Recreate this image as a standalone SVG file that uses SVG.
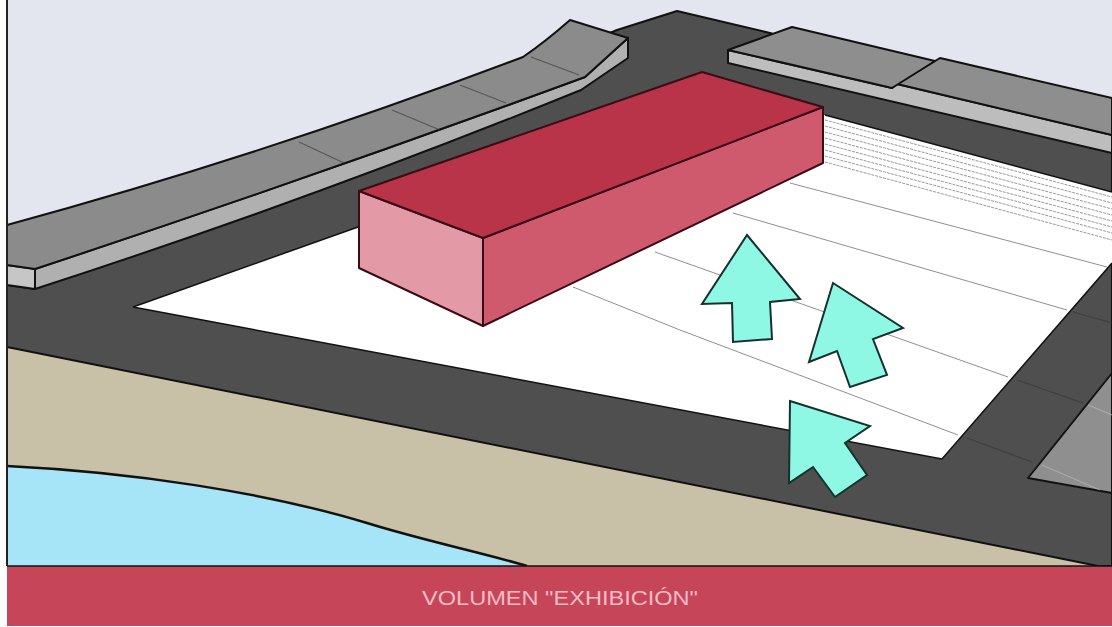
<svg xmlns="http://www.w3.org/2000/svg" width="1112" height="627" viewBox="0 0 1112 627">
<style>
.o{stroke:#111;stroke-width:2;stroke-linejoin:round}
.box{stroke:#3a0c16;stroke-width:2;stroke-linejoin:round}
.seam{fill:none;stroke:#333;stroke-width:1.2;opacity:.6}
.g{fill:none;stroke:#8f8f8f;stroke-width:1}
.d{fill:none;stroke:#9a9a9a;stroke-width:1;stroke-dasharray:3 1}
.a{fill:#8ff8e4;stroke:#16302e;stroke-width:2;stroke-linejoin:miter}
</style>
<rect width="1112" height="627" fill="#fff"/>
<rect x="7" y="0" width="1105" height="566" fill="#e3e6ee"/>
<path d="M7 347L1098 566H7Z" fill="#c9c0a8"/>
<path d="M7 466C130 472 265 492 367 523C425 541 480 552 527 566H7Z" fill="#a6e5f7"/>
<path d="M7 466C130 472 265 492 367 523C425 541 480 552 527 566" fill="none" stroke="#111" stroke-width="2.5"/>
<path class="o" d="M7 285L617 30L677 11L770 33L1112 135V566H1098L7 347Z" fill="#4f4f4f"/>
<path d="M133 307L358 227L700 110L825 115L1112 192V263L942 459Z" fill="#fff"/>
<path d="M133 307L358 227M825 115L1112 192M1112 263L942 459L133 307" fill="none" stroke="#111" stroke-width="1.5"/>
<g>
<path class="d" d="M825 120L1112 197M825 126L1112 203M825 132L1112 209M825 138L1112 215M825 144L1112 221M825 150L1112 227M825 156L1112 233M825 162L1112 240"/>
<path class="g" d="M790 183L1107 267M733 213L1067 310M655 252L1008 377M573 287L680 330L958 435"/>
</g>
<path class="seam" d="M1073 312L1112 323M1017 380L1083 403M967 438L1032 462"/>
<path class="o" d="M1028 478L1112 373V493Z" fill="#8f8f8f"/>
<path class="seam" d="M1088 405L1112 415M1042 465L1100 490" style="stroke:#bbb"/>
<path class="o" d="M7 265L35 269Q310 178 585 77L628 38V58L581 90Q310 200 35 289L7 285Z" fill="#b0b0b0"/>
<path d="M7 265L35 269V289L7 285Z" fill="#c6c6c6" stroke="#111" stroke-width="2" stroke-linejoin="round"/>
<path class="o" d="M7 225Q265 155 523 57Q545 42 570 20L628 38L585 77Q310 178 35 269L7 265Z" fill="#8b8b8b"/>
<path class="seam" d="M299 142L344 163M392 110L440 130M460 85L506 103M531 57L579 75"/>
<path class="o" d="M728 50V63L1112 153V135L897 84L892 88Z" fill="#bdbdbd"/>
<path class="o" d="M897 84L940 58L1112 98V135Z" fill="#8e8e8e"/>
<path class="o" d="M728 50L792 27L935 61L892 88Z" fill="#8e8e8e"/>
<path class="box" d="M359 191L483 238V326L359 268Z" fill="#e49aa6"/>
<path class="box" d="M483 238L823 107V163L483 326Z" fill="#cf5a6e"/>
<path class="box" d="M359 191L702 72L823 107L483 238Z" fill="#b93349"/>
<path class="a" d="M747 235L800 299L770 302L772 339L733 342L732 303L702 304Z"/>
<path class="a" d="M833 283L903 328L873 339L887 375L850 387L837 351L809 362Z"/>
<path class="a" d="M790 401L870 426L845 443L867 475L835 497L813 467L789 483Z"/>
<rect x="7" y="566" width="1105" height="60" fill="#c64558"/>
<path d="M7 566H1112" stroke="#111" stroke-width="1.5"/>
<rect x="6" y="0" width="2" height="566" fill="#222"/>
<text x="560" y="605" text-anchor="middle" font-family="Liberation Sans, Arial, sans-serif" font-size="20" fill="#f4bcc5" textLength="276" lengthAdjust="spacingAndGlyphs">VOLUMEN "EXHIBICIÓN"</text>
</svg>
